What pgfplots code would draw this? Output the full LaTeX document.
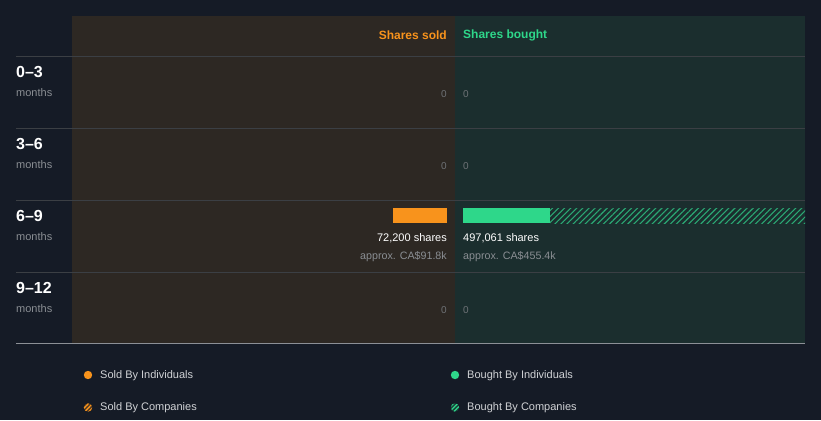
\documentclass[border=0pt]{standalone}
\usepackage{pgfplots}
\pgfplotsset{compat=1.18}
\usetikzlibrary{patterns.meta}
\usepackage{fontspec}
\setmainfont{Liberation Sans}
\definecolor{bg}{HTML}{151B26}
\definecolor{soldbg}{HTML}{2D2823}
\definecolor{boughtbg}{HTML}{1B2E2E}
\definecolor{sold}{HTML}{F8931C}
\definecolor{bought}{HTML}{2ED78A}
\definecolor{hatchg}{HTML}{2BA874}
\definecolor{gridc}{HTML}{3B3F44}
\definecolor{basec}{HTML}{8C9096}
\definecolor{graytxt}{HTML}{8A8E93}
\definecolor{zerotxt}{HTML}{6E7276}
\definecolor{legtxt}{HTML}{D0D2D5}
\newcommand{\fs}[1]{\fontsize{#1}{#1}\selectfont}
\tikzset{
  rowlab/.style={anchor=west, inner sep=0pt, text=white, font=\fs{16}\bfseries},
  monlab/.style={anchor=west, inner sep=0pt, text=graytxt, font=\fs{11}},
  zl/.style={anchor=east, inner sep=0pt, text=zerotxt, font=\fs{10}},
  zr/.style={anchor=west, inner sep=0pt, text=zerotxt, font=\fs{10}},
  leg/.style={anchor=west, inner sep=0pt, text=legtxt, font=\fs{11}},
}
\begin{document}
\begin{tikzpicture}
\begin{axis}[width=821pt, height=420pt, scale only axis,
  xmin=0, xmax=821, ymin=0, ymax=420, y dir=reverse,
  hide axis, clip=false]
% background and panels
\addplot[fill=bg, draw=none] coordinates {(0,0) (821,0) (821,420) (0,420)} --cycle;
\addplot[fill=soldbg, draw=none] coordinates {(72,16) (455,16) (455,343) (72,343)} --cycle;
\addplot[fill=boughtbg, draw=none] coordinates {(455,16) (805,16) (805,343) (455,343)} --cycle;
% grid lines
\addplot[gridc, line width=0.8pt] coordinates {(16,56) (805,56)};
\addplot[gridc, line width=0.8pt] coordinates {(16,128) (805,128)};
\addplot[gridc, line width=0.8pt] coordinates {(16,200) (805,200)};
\addplot[gridc, line width=0.8pt] coordinates {(16,272) (805,272)};
\addplot[basec, line width=0.8pt] coordinates {(16,343) (805,343)};
% bars (6-9 months)
\addplot[fill=sold, draw=none] coordinates {(393,208) (447,208) (447,223) (393,223)} --cycle;
\addplot[fill=bought, draw=none] coordinates {(463,208) (550,208) (550,223) (463,223)} --cycle;
\addplot[draw=none, pattern={Lines[angle=45, distance=4.3pt, line width=1.1pt]}, pattern color=hatchg] coordinates {(550,208) (805,208) (805,223) (550,223)} --cycle;
% headers
\node[anchor=east, inner sep=0pt, text=sold, font=\fs{12}\bfseries] at (axis cs:447,35) {Shares sold};
\node[anchor=west, inner sep=0pt, text=bought, font=\fs{12}\bfseries] at (axis cs:463,35) {Shares bought};
% row labels
\node[rowlab] at (axis cs:16,72) {0--3};
\node[monlab] at (axis cs:16,92.5) {months};
\node[rowlab] at (axis cs:16,144) {3--6};
\node[monlab] at (axis cs:16,164.5) {months};
\node[rowlab] at (axis cs:16,216) {6--9};
\node[monlab] at (axis cs:16,236.5) {months};
\node[rowlab] at (axis cs:16,288) {9--12};
\node[monlab] at (axis cs:16,308.5) {months};
% zeros
\node[zl] at (axis cs:447,94.5) {0};
\node[zr] at (axis cs:463,94.5) {0};
\node[zl] at (axis cs:447,166.5) {0};
\node[zr] at (axis cs:463,166.5) {0};
\node[zl] at (axis cs:447,310.5) {0};
\node[zr] at (axis cs:463,310.5) {0};
% values
\node[anchor=east, inner sep=0pt, text=white, font=\fs{11}] at (axis cs:447,238.5) {72,200 shares};
\node[anchor=east, inner sep=0pt, text=graytxt, font=\fs{10.7}] at (axis cs:447,256.5) {approx. CA\$91.8k};
\node[anchor=west, inner sep=0pt, text=white, font=\fs{11}] at (axis cs:463,238.5) {497,061 shares};
\node[anchor=west, inner sep=0pt, text=graytxt, font=\fs{10.7}] at (axis cs:463,256.5) {approx. CA\$455.4k};
% legend
\fill[sold] (axis cs:88,375) circle[radius=4.2pt];
\node[leg] at (axis cs:100,376) {Sold By Individuals};
\fill[sold!25!bg] (axis cs:88,407.5) circle[radius=4.2pt];
\path[pattern={Lines[angle=45, distance=3pt, line width=1.3pt]}, pattern color=sold] (axis cs:88,407.5) circle[radius=4.2pt];
\node[leg] at (axis cs:100,408) {Sold By Companies};
\fill[bought] (axis cs:455,375) circle[radius=4.2pt];
\node[leg] at (axis cs:467,376) {Bought By Individuals};
\fill[bought!20!bg] (axis cs:455,407.5) circle[radius=4.2pt];
\path[pattern={Lines[angle=45, distance=3pt, line width=1.3pt]}, pattern color=bought] (axis cs:455,407.5) circle[radius=4.2pt];
\node[leg] at (axis cs:467,408) {Bought By Companies};
\end{axis}
\end{tikzpicture}
\end{document}
